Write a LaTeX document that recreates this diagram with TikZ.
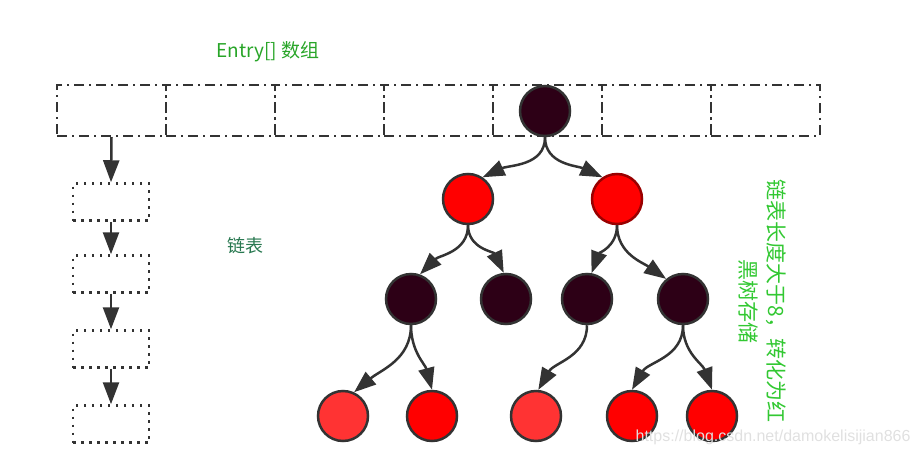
\documentclass[tikz,border=0pt]{standalone}
\usepackage{fontspec}
\setmainfont{Noto Sans CJK SC}
\newfontfamily\urlfont{Liberation Sans}
\usetikzlibrary{arrows.meta}
\definecolor{rbblack}{RGB}{45,0,22}
\definecolor{rbred}{RGB}{255,0,0}
\definecolor{rblight}{RGB}{255,51,51}
\definecolor{edgegray}{RGB}{51,51,51}
\definecolor{titlegreen}{RGB}{40,165,40}
\definecolor{listgreen}{RGB}{40,120,80}
\definecolor{notegreen}{RGB}{50,200,50}

\begin{document}
\begin{tikzpicture}[x=1pt, y=1pt,
  cell/.style={draw=edgegray, line width=2.2pt, dash pattern=on 10pt off 5pt on 2pt off 5pt,
    minimum width=109pt, minimum height=51pt, inner sep=0pt},
  listbox/.style={draw=edgegray, line width=2.5pt, dash pattern=on 2.5pt off 5.5pt,
    minimum width=76pt, minimum height=37pt, inner sep=0pt},
  treenode/.style={circle, draw=edgegray, line width=2.5pt, minimum size=50pt, inner sep=0pt},
  blk/.style={treenode, fill=rbblack},
  red/.style={treenode, fill=rbred},
  lightred/.style={treenode, fill=rblight},
  arr/.style={-{Triangle[length=22pt,width=16pt]}, draw=edgegray, line width=2.5pt}]

 \useasboundingbox (0,0) rectangle (923,-455);

 % array
 \foreach \i in {1,...,7}{
    \node[cell] (c\i) at (2.5+109*\i,-110.5) {};
 }
 \node[text=titlegreen, font=\fontsize{19}{22}\selectfont] (title) at (268,-52) {Entry[] 数组};

 % linked list
 \node[listbox] (b1) at (111,-202) {};
 \node[listbox] (b2) at (111,-274) {};
 \node[listbox] (b3) at (111,-349) {};
 \node[listbox] (b4) at (111,-424) {};
 \draw[arr] (c1.south) -- (b1.north);
 \draw[arr] (b1.south) -- (b2.north);
 \draw[arr] (b2.south) -- (b3.north);
 \draw[arr] (b3.south) -- (b4.north);
 \node[text=listgreen, font=\fontsize{18}{20}\selectfont] (list) at (245,-246) {链表};

 % red-black tree
 \node[blk] (root) at (545,-111) {};
 \node[red] (l1a) at (468,-199) {};
 \node[red, draw=rbred!60!black] (l1b) at (617,-199) {};
 \node[blk] (l2a) at (411,-299) {};
 \node[blk] (l2b) at (506,-299) {};
 \node[blk] (l2c) at (587,-299) {};
 \node[blk] (l2d) at (683,-299) {};
 \node[lightred] (l3a) at (343,-416) {};
 \node[red] (l3b) at (432,-416) {};
 \node[lightred] (l3c) at (536,-416) {};
 \node[red] (l3d) at (632,-416) {};
 \node[red] (l3e) at (712,-416) {};

 \draw[arr] (root.south) to[out=-90, in=25] (l1a.56);
 \draw[arr] (root.south) to[out=-90, in=155] (l1b.124);
 \draw[arr] (l1a.south) to[out=-90, in=45] (l2a.70);
 \draw[arr] (l1a.south) to[out=-90, in=115] (l2b.95);
 \draw[arr] (l1b.south) to[out=-90, in=70] (l2c.80);
 \draw[arr] (l1b.south) to[out=-90, in=145] (l2d.130);
 \draw[arr] (l2a.south) to[out=-90, in=40] (l3a.65);
 \draw[arr] (l2a.south) to[out=-90, in=105] (l3b.90);
 \draw[arr] (l2c.south) to[out=-90, in=60] (l3c.85);
 \draw[arr] (l2d.south) to[out=-90, in=60] (l3d.90);
 \draw[arr] (l2d.south) to[out=-90, in=110] (l3e.90);

 \node[rotate=-90, align=center, text=notegreen, font=\fontsize{21}{28}\selectfont] (note) at (762,-301)
   {链表长度大于8，转化为红\\黑树存储};

 \node[anchor=east, text=black!12, font=\urlfont\fontsize{16}{18}\selectfont] (mark) at (914,-437)
   {https://blog.csdn.net/damokelisijian866};

\end{tikzpicture}
\end{document}
